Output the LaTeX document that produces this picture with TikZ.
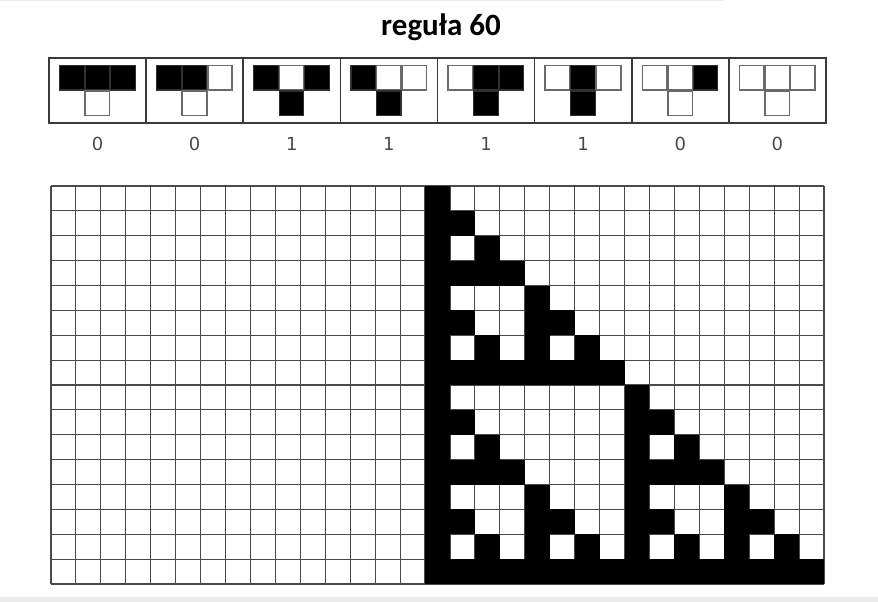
\documentclass[tikz,border=0pt]{standalone}
\usepackage{fontspec}
\newfontfamily\titlefont{Carlito}
\newfontfamily\labfont{DejaVu Sans}
\definecolor{gridc}{HTML}{4A4A4A}
\definecolor{cellc}{HTML}{6A6A6A}
\definecolor{blkc}{HTML}{303030}
\definecolor{boxc}{HTML}{3A3A3A}
\definecolor{labc}{HTML}{4A4A4A}
\definecolor{bandc}{HTML}{EBEBEB}
\begin{document}
\begin{tikzpicture}[x=1pt,y=-1pt,
  s0/.style={draw=cellc,line width=1.6pt,fill=white},
  s1/.style={draw=blkc,line width=1.2pt,fill=black},
  gridline/.style={draw=gridc,line width=1.1pt},
  boxline/.style={draw=boxc,line width=1.6pt},
  lab/.style={text=labc,font=\labfont\fontsize{18}{18}\selectfont},
  ttl/.style={font=\titlefont\bfseries\fontsize{31}{31}\selectfont}]
\path[use as bounding box] (0,0) rectangle (878,602);
\fill[bandc] (0,597) rectangle (878,602);
\fill[bandc] (0,0) rectangle (724,1.5);
\node[ttl] (title) at (441,27) {reguła 60};
% rule table
\draw[boxline] (49,58) rectangle (826,123);
\foreach \i in {1,...,7}
  \draw[boxline] ({49+97.125*\i},58) -- ({49+97.125*\i},123);
\foreach \i/\a/\b/\c/\o in {0/1/1/1/0,1/1/1/0/0,2/1/0/1/1,3/1/0/0/1,4/0/1/1/1,5/0/1/0/1,6/0/0/1/0,7/0/0/0/0}{
  \pgfmathsetmacro\bx{49+97.125*\i+10.6}
  \path[s\a] (\bx,65.5) rectangle ++(24.5,24.5);
  \path[s\b] ({\bx+25.5},65.5) rectangle ++(24.5,24.5);
  \path[s\c] ({\bx+51},65.5) rectangle ++(24.5,24.5);
  \path[s\o] ({\bx+25.5},91) rectangle ++(24.5,24.5);
  \node[lab] (l\i) at ({49+97.125*(\i+0.5)},144) {\o};
}
% evolution grid
\foreach \i in {0,...,31}
  \draw[gridline] ({51+24.935*\i},186) -- ({51+24.935*\i},584);
\foreach \j in {0,...,16}
  \draw[gridline] (51,{186+24.875*\j}) -- (824,{186+24.875*\j});
\foreach \t/\ks in {0/{0},1/{0,1},2/{0,2},3/{0,1,2,3},4/{0,4},5/{0,1,4,5},6/{0,2,4,6},7/{0,1,2,3,4,5,6,7},8/{0,8},9/{0,1,8,9},10/{0,2,8,10},11/{0,1,2,3,8,9,10,11},12/{0,4,8,12},13/{0,1,4,5,8,9,12,13},14/{0,2,4,6,8,10,12,14},15/{0,1,2,3,4,5,6,7,8,9,10,11,12,13,14,15}}{
  \foreach \k in \ks
    \fill[black] ({51+24.935*(15+\k)},{186+24.875*\t}) rectangle ++(24.935,24.875);
}
\end{tikzpicture}
\end{document}
